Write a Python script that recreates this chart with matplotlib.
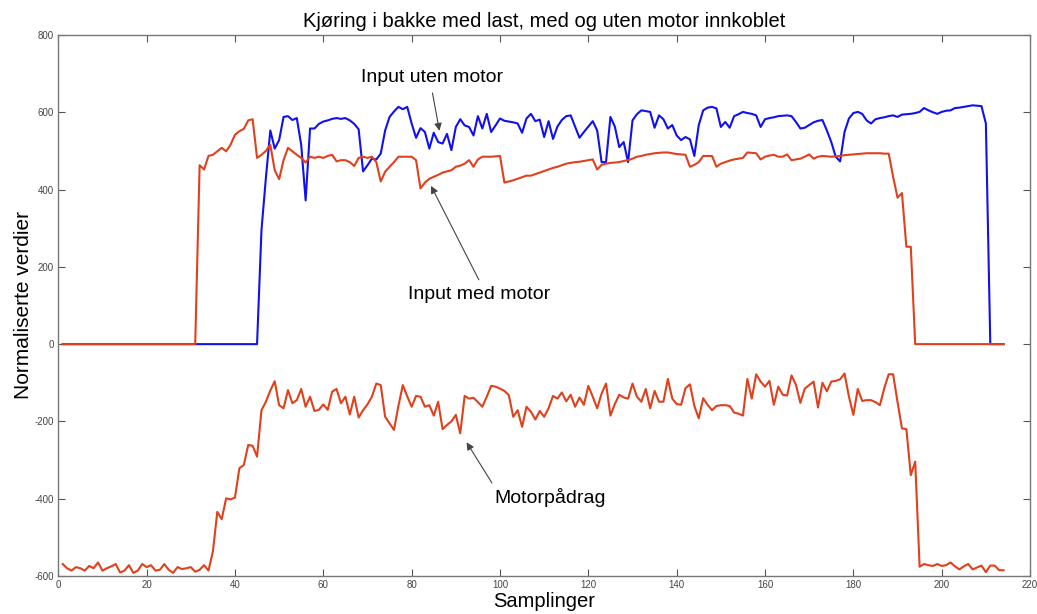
import matplotlib
matplotlib.use("Agg")
import numpy as np
from matplotlib import pyplot as plt

plt.rcParams['font.family'] = ['Liberation Sans', 'DejaVu Sans']
plt.rcParams['axes.unicode_minus'] = False

# sample index 1..214
samples = np.arange(1, 215)

# "Input uten motor" (blue)
uten_motor = [0] * 45 + [
    295, 430, 553, 506, 528, 588, 590, 580, 585, 515,
    372, 558, 558, 570, 576, 579, 583, 585, 583, 585,
    579, 570, 556, 447, 463, 480, 478, 493, 553, 588,
    602, 614, 608, 614, 571, 534, 559, 549, 506, 547,
    523, 519, 544, 502, 562, 582, 566, 562, 540, 590,
    558, 596, 549, 566, 584, 578, 576, 574, 571, 547,
    584, 596, 577, 581, 536, 577, 531, 563, 580, 590,
    592, 563, 534, 549, 563, 577, 553, 471, 471, 588,
    563, 510, 523, 471, 579, 595, 605, 603, 601, 560,
    592, 582, 558, 567, 540, 528, 536, 530, 487, 567,
    605, 612, 614, 610, 562, 575, 560, 590, 595, 601,
    598, 596, 592, 562, 582, 585, 587, 590, 591, 592,
    590, 575, 558, 560, 567, 574, 578, 580, 553, 523,
    485, 473, 549, 584, 598, 601, 596, 579, 571, 582,
    585, 587, 590, 592, 588, 594, 595, 596, 598, 601,
    611, 605, 600, 596, 601, 604, 605, 611, 612, 614,
    616, 618, 617, 616, 571, 0, 0, 0, 0]

# "Input med motor" (red, top)
med_motor = [0] * 31 + [
    463, 452, 487, 490, 499, 508, 499, 516, 542, 551,
    557, 579, 582, 482, 490, 500, 516, 450, 427, 476,
    508, 499, 490, 482, 470, 485, 482, 485, 482, 487,
    490, 473, 476, 476, 471, 461, 482, 485, 482, 485,
    471, 421, 446, 459, 471, 485, 485, 485, 485, 476,
    403, 418, 428, 433, 438, 444, 447, 450, 459, 462,
    467, 476, 459, 478, 485, 485, 485, 486, 487, 418,
    421, 424, 428, 432, 436, 436, 440, 444, 448, 452,
    456, 459, 463, 467, 469, 471, 472, 474, 476, 478,
    452, 464, 467, 469, 470, 471, 474, 476, 480, 485,
    487, 490, 492, 494, 495, 496, 496, 494, 492, 491,
    490, 459, 464, 471, 487, 487, 487, 459, 467, 471,
    475, 478, 480, 482, 496, 495, 494, 478, 485, 488,
    490, 485, 485, 491, 476, 478, 480, 485, 491, 480,
    485, 487, 486, 485, 486, 487, 489, 490, 491, 492,
    493, 494, 494, 494, 494, 493, 493, 433, 379, 391,
    252, 252] + [0] * 21

# "Motorpaadrag" (red, bottom)
motor = [
    -569, -580, -586, -577, -580, -586, -574, -580, -565, -586,
    -580, -575, -569, -591, -586, -572, -592, -586, -569, -577,
    -572, -586, -584, -569, -584, -592, -577, -582, -580, -577,
    -589, -584, -572, -586, -537, -434, -453, -399, -402, -397,
    -321, -313, -261, -263, -291, -171, -149, -120, -96, -158,
    -166, -119, -153, -145, -116, -162, -136, -173, -170, -156,
    -170, -123, -116, -153, -136, -182, -136, -190, -171, -156,
    -136, -102, -106, -188, -205, -222, -160, -106, -135, -162,
    -134, -136, -162, -158, -185, -149, -220, -209, -200, -183,
    -231, -134, -141, -139, -150, -162, -136, -108, -110, -115,
    -121, -132, -188, -171, -214, -162, -175, -195, -173, -188,
    -166, -134, -141, -125, -148, -131, -162, -138, -157, -108,
    -136, -166, -128, -102, -185, -155, -131, -138, -141, -102,
    -136, -149, -116, -166, -121, -149, -149, -90, -141, -155,
    -157, -114, -104, -160, -192, -140, -157, -171, -160, -158,
    -158, -160, -177, -180, -185, -90, -141, -78, -97, -110,
    -95, -157, -110, -131, -133, -81, -105, -152, -115, -106,
    -97, -164, -100, -122, -97, -95, -91, -76, -136, -183,
    -116, -147, -145, -145, -150, -158, -114, -78, -78, -150,
    -218, -220, -339, -304, -576, -569, -572, -574, -569, -574,
    -572, -565, -575, -583, -575, -569, -583, -578, -573, -590,
    -573, -573, -585, -585]

x_ticks = np.arange(0, 221, 20)
y_ticks = np.arange(-600, 801, 200)

blue = '#1010f0'
red = '#e0401c'

fig = plt.figure(figsize=(10.37, 6.14), dpi=100)
ax = fig.add_axes([0.0562, 0.0619, 0.9371, 0.8811])

ax.plot(samples, uten_motor, color=blue, lw=1.5)
ax.plot(samples, med_motor, color=red, lw=1.5)
ax.plot(samples, motor, color=red, lw=1.5)

ax.set_xlim(0, 220)
ax.set_ylim(-600, 800)
ax.set_xticks(x_ticks)
ax.set_yticks(y_ticks)
ax.tick_params(direction='in', top=True, right=True, length=5, width=0.8,
               labelsize=7, colors='#555555', labelcolor='#444444', pad=3)
for sp in ax.spines.values():
    sp.set_color('#777777')
    sp.set_linewidth(1.0)

ax.set_title('Kjøring i bakke med last, med og uten motor innkoblet',
             fontsize=14.5, pad=6)
ax.set_xlabel('Samplinger', fontsize=14.5, labelpad=1)
ax.set_ylabel('Normaliserte verdier', fontsize=15, labelpad=1)

arrow = dict(arrowstyle='-|>', color='#444444', lw=0.8, mutation_scale=11)

ax.text(84.6, 690, 'Input uten motor', fontsize=14, ha='center', va='center')
ax.annotate('', xy=(86.4, 545), xytext=(84.6, 657), arrowprops=arrow)

ax.text(95.3, 129, 'Input med motor', fontsize=14, ha='center', va='center')
ax.annotate('', xy=(84.1, 416), xytext=(95.5, 160), arrowprops=arrow)

ax.text(111.3, -396, 'Motorpådrag', fontsize=14, ha='center', va='center')
ax.annotate('', xy=(92.1, -248), xytext=(98.5, -365), arrowprops=arrow)

fig.savefig('out.png', dpi=100)
